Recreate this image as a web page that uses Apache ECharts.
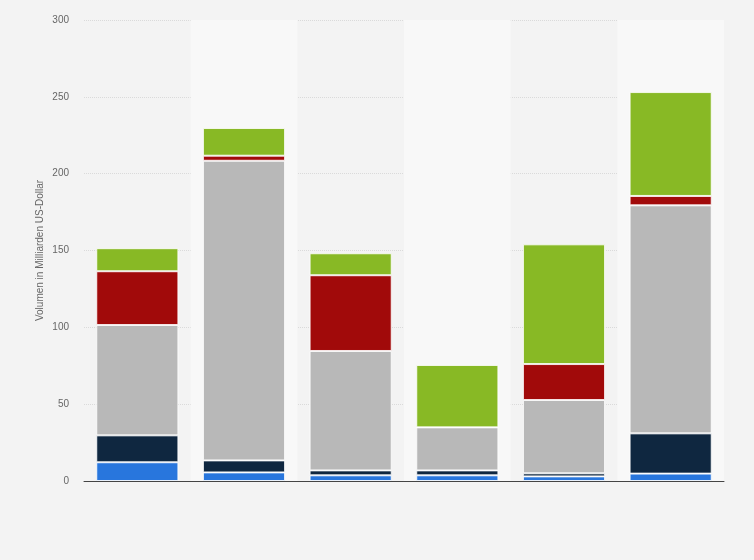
<!DOCTYPE html>
<html>
<head>
<meta charset="utf-8">
<script src="https://cdn.jsdelivr.net/npm/echarts@6/dist/echarts.min.js"></script>
<style>
  html, body { margin: 0; padding: 0; background: #f3f3f3; }
  #chart { width: 754px; height: 560px; }
</style>
</head>
<body>
<div id="chart"></div>
<script>
// Kategorien (keine Beschriftung im Original sichtbar)
const categories = ['1', '2', '3', '4', '5', '6'];

// Werte in Milliarden US-Dollar, von unten nach oben gestapelt
const blueValues = [12.2, 5.6, 3.7, 3.7, 3.0, 4.8];
const navyValues = [17.5, 7.8, 3.2, 3.2, 2.0, 26.2];
const grayValues = [71.8, 195.0, 77.7, 28.0, 47.7, 148.4];
const redValues = [35.0, 3.3, 49.3, 0, 23.4, 6.1];
const greenValues = [15.0, 18.0, 14.3, 40.6, 77.9, 67.6];

const yTicks = [0, 50, 100, 150, 200, 250, 300];

const chart = echarts.init(document.getElementById('chart'), null, { renderer: 'canvas' });

function stackSeries(name, data, color) {
  return {
    name: name,
    type: 'bar',
    stack: 'total',
    data: data,
    barWidth: '77%',
    itemStyle: {
      color: color,
      borderColor: 'rgba(255,255,255,0.8)',
      borderWidth: 1
    },
    emphasis: { disabled: true }
  };
}

const option = {
  backgroundColor: '#f3f3f3',
  animation: false,
  grid: {
    left: 84,
    right: 30,
    top: 20,
    bottom: 79
  },
  xAxis: {
    type: 'category',
    data: categories,
    axisLine: { show: true, lineStyle: { color: '#444', width: 1 } },
    axisTick: { show: false },
    axisLabel: { show: false },
    splitArea: {
      show: true,
      areaStyle: { color: ['rgba(0,0,0,0)', '#f8f8f8'] }
    }
  },
  yAxis: {
    type: 'value',
    min: yTicks[0],
    max: yTicks[yTicks.length - 1],
    interval: 50,
    name: 'Volumen in Milliarden US-Dollar',
    nameLocation: 'middle',
    nameRotate: 90,
    nameGap: 39,
    nameMoveOverlap: false,
    nameTextStyle: {
      color: '#666',
      fontSize: 10,
      fontFamily: 'Liberation Sans, Arial, sans-serif'
    },
    axisLine: { show: false },
    axisTick: { show: false },
    axisLabel: {
      color: '#666',
      fontSize: 10,
      margin: 15,
      fontFamily: 'Liberation Sans, Arial, sans-serif'
    },
    splitLine: {
      show: true,
      lineStyle: { color: '#dadada', type: [1, 1], width: 1 }
    }
  },
  series: [
    stackSeries('Blau', blueValues, '#2876dd'),
    stackSeries('Dunkelblau', navyValues, '#0f2740'),
    stackSeries('Grau', grayValues, '#b8b8b8'),
    stackSeries('Rot', redValues, '#a10a0a'),
    stackSeries('Grün', greenValues, '#88b925')
  ]
};

chart.setOption(option);
</script>
</body>
</html>
